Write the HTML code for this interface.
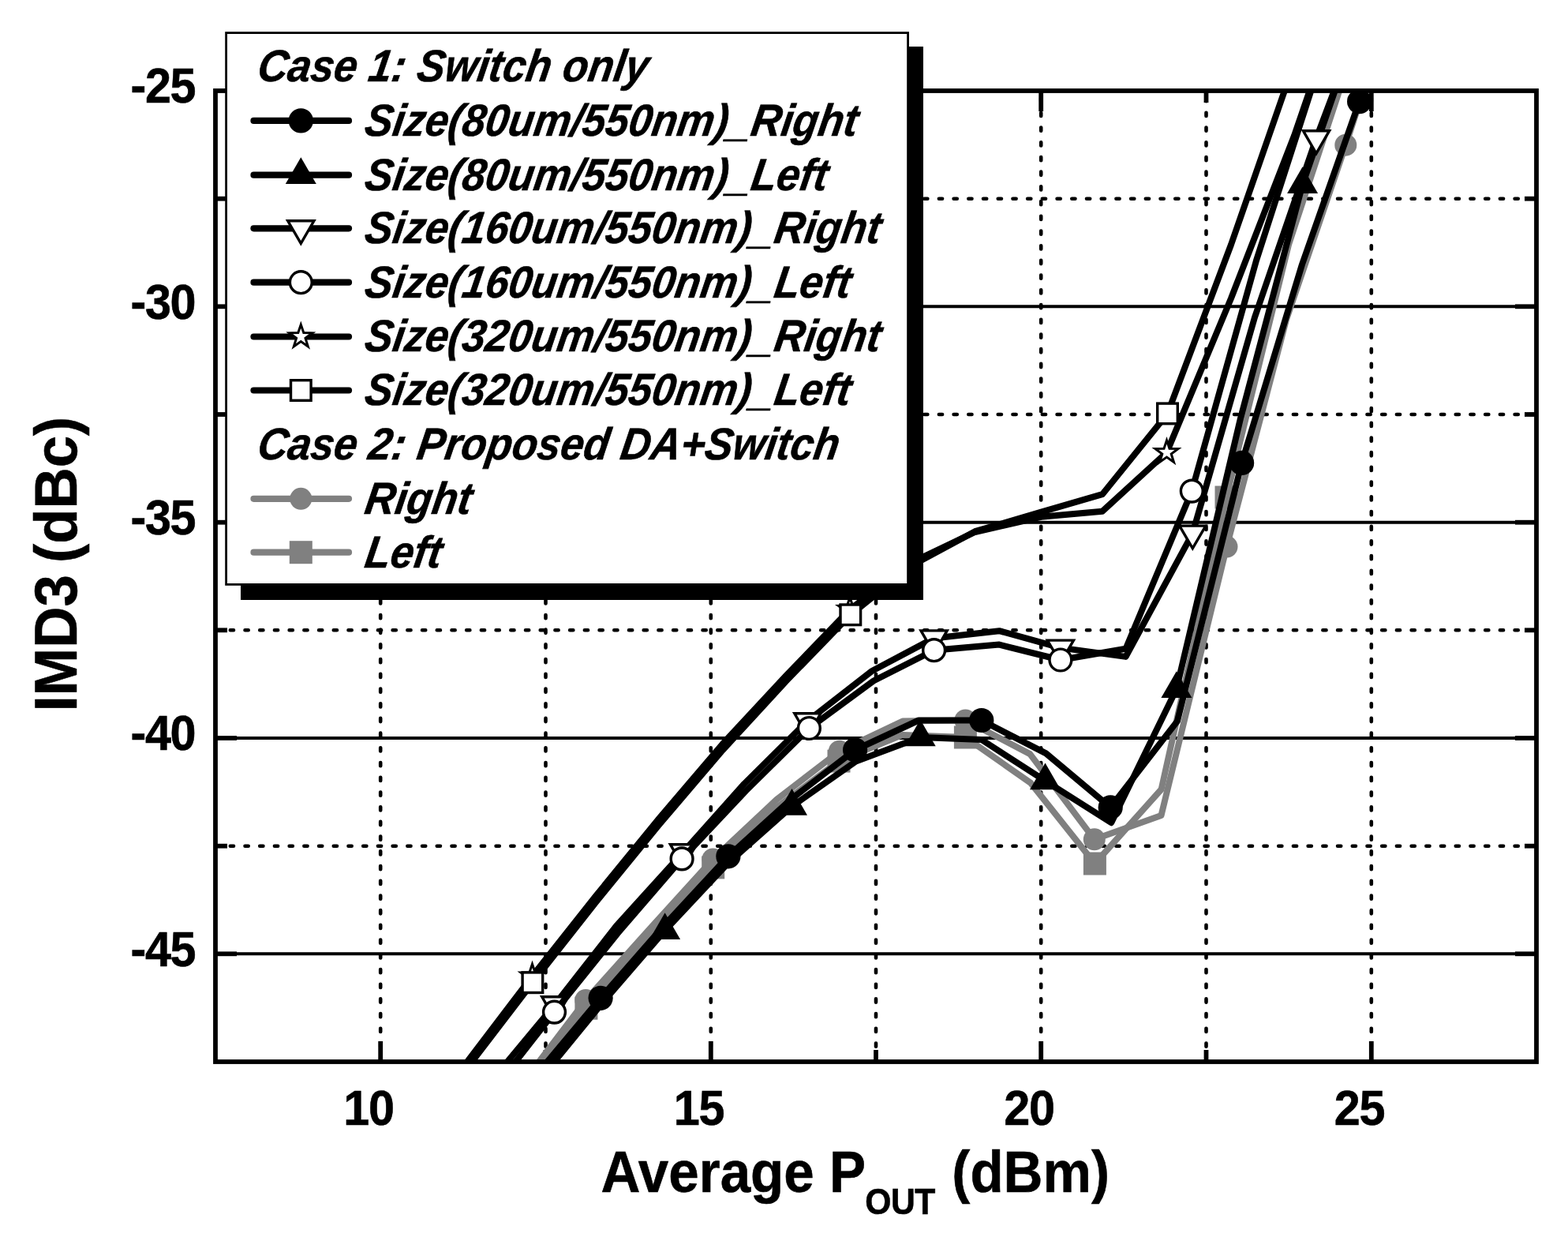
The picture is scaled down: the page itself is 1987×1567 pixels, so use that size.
<!DOCTYPE html>
<html lang="en"><head><meta charset="utf-8"><title>IMD3 vs Average Pout</title>
<style>
html,body{margin:0;padding:0;background:#fff;}
body{width:1987px;height:1567px;overflow:hidden;}
svg{display:block;}
text{font-family:"Liberation Sans",sans-serif;font-weight:bold;fill:#000;stroke:#000;stroke-width:0.6px;}
.leg{font-style:italic;font-size:57px;}
.tick{font-size:62.8px;letter-spacing:-1.4px;}
.ttl{font-size:74.5px;}
.sub{font-size:46px;letter-spacing:-0.5px;}
</style></head><body>
<svg width="1987" height="1567" viewBox="0 0 1987 1567" role="img" aria-label="IMD3 (dBc) versus Average Pout (dBm)">
<rect x="0" y="0" width="1987" height="1567" fill="#fff"/>
<defs><clipPath id="plot"><rect x="273" y="115" width="1674" height="1230"/></clipPath></defs>
<g stroke="#000" stroke-width="4" fill="none">
<line x1="273" y1="388.3" x2="1947" y2="388.3"/>
<line x1="273" y1="661.7" x2="1947" y2="661.7"/>
<line x1="273" y1="935" x2="1947" y2="935"/>
<line x1="273" y1="1208.3" x2="1947" y2="1208.3"/>
</g>
<g stroke="#000" stroke-width="4.6" fill="none" stroke-linecap="round" stroke-dasharray="4.2 14.51">
<line x1="273.1" y1="251.7" x2="1947" y2="251.7"/>
<line x1="273.1" y1="525" x2="1947" y2="525"/>
<line x1="273.1" y1="798.3" x2="1947" y2="798.3"/>
<line x1="273.1" y1="1071.7" x2="1947" y2="1071.7"/>
<line x1="482.2" y1="124.1" x2="482.2" y2="1345"/>
<line x1="691.5" y1="124.1" x2="691.5" y2="1345"/>
<line x1="900.8" y1="124.1" x2="900.8" y2="1345"/>
<line x1="1110" y1="124.1" x2="1110" y2="1345"/>
<line x1="1319.2" y1="124.1" x2="1319.2" y2="1345"/>
<line x1="1528.5" y1="124.1" x2="1528.5" y2="1345"/>
<line x1="1737.8" y1="124.1" x2="1737.8" y2="1345"/>
</g>
<g stroke="#000" stroke-width="5.8" fill="none">
<line x1="273" y1="388.3" x2="300" y2="388.3"/>
<line x1="1947" y1="388.3" x2="1920" y2="388.3"/>
<line x1="273" y1="661.7" x2="300" y2="661.7"/>
<line x1="1947" y1="661.7" x2="1920" y2="661.7"/>
<line x1="273" y1="935" x2="300" y2="935"/>
<line x1="1947" y1="935" x2="1920" y2="935"/>
<line x1="273" y1="1208.3" x2="300" y2="1208.3"/>
<line x1="1947" y1="1208.3" x2="1920" y2="1208.3"/>
<line x1="273" y1="251.7" x2="288" y2="251.7"/>
<line x1="1947" y1="251.7" x2="1932" y2="251.7"/>
<line x1="273" y1="525" x2="288" y2="525"/>
<line x1="1947" y1="525" x2="1932" y2="525"/>
<line x1="273" y1="798.3" x2="288" y2="798.3"/>
<line x1="1947" y1="798.3" x2="1932" y2="798.3"/>
<line x1="273" y1="1071.7" x2="288" y2="1071.7"/>
<line x1="1947" y1="1071.7" x2="1932" y2="1071.7"/>
<line x1="482.2" y1="115" x2="482.2" y2="141"/>
<line x1="482.2" y1="1345" x2="482.2" y2="1319"/>
<line x1="900.8" y1="115" x2="900.8" y2="141"/>
<line x1="900.8" y1="1345" x2="900.8" y2="1319"/>
<line x1="1319.2" y1="115" x2="1319.2" y2="141"/>
<line x1="1319.2" y1="1345" x2="1319.2" y2="1319"/>
<line x1="1737.8" y1="115" x2="1737.8" y2="141"/>
<line x1="1737.8" y1="1345" x2="1737.8" y2="1319"/>
<line x1="691.5" y1="115" x2="691.5" y2="130"/>
<line x1="691.5" y1="1345" x2="691.5" y2="1330"/>
<line x1="1110" y1="115" x2="1110" y2="130"/>
<line x1="1110" y1="1345" x2="1110" y2="1330"/>
<line x1="1528.5" y1="115" x2="1528.5" y2="130"/>
<line x1="1528.5" y1="1345" x2="1528.5" y2="1330"/>
</g>
<g clip-path="url(#plot)">
<polyline points="662,1378 742.9,1277.2 823,1185 903.7,1098.9 984,1023 1063,964.1 1143.8,930.9 1223.4,934 1306.2,991.9 1387.4,1094 1471.6,1000 1554,630 1633,310 1714,64 1790,-170" fill="none" stroke="#808080" stroke-width="8" stroke-linejoin="round" stroke-linecap="round"/>
<rect x="728.4" y="1262.7" width="29" height="29" fill="#808080"/>
<rect x="889.2" y="1084.4" width="29" height="29" fill="#808080"/>
<rect x="1048.5" y="949.6" width="29" height="29" fill="#808080"/>
<rect x="1208.9" y="919.5" width="29" height="29" fill="#808080"/>
<rect x="1372.9" y="1079.5" width="29" height="29" fill="#808080"/>
<rect x="1539.5" y="615.5" width="29" height="29" fill="#808080"/>
<polyline points="664,1370 742.3,1267 824,1176 903.5,1088.5 984,1013 1063.8,951.7 1143.8,913.6 1223.4,912.5 1305.2,955.1 1386.8,1063.3 1471.5,1033 1554.5,692.6 1630,405 1705.3,183.7 1785,-60" fill="none" stroke="#808080" stroke-width="8" stroke-linejoin="round" stroke-linecap="round"/>
<circle cx="742.3" cy="1267" r="14" fill="#808080"/>
<circle cx="903.5" cy="1088.5" r="14" fill="#808080"/>
<circle cx="1063.8" cy="951.7" r="14" fill="#808080"/>
<circle cx="1223.4" cy="912.5" r="14" fill="#808080"/>
<circle cx="1386.8" cy="1063.3" r="14" fill="#808080"/>
<circle cx="1554.5" cy="692.6" r="14" fill="#808080"/>
<circle cx="1705.3" cy="183.7" r="14" fill="#808080"/>
<polyline points="681,1360 761.1,1264.3 842,1172 922.9,1084.8 1003,1012 1083.6,950 1164.2,912.5 1243.8,912.5 1325.5,954.4 1407.2,1022.8 1491.9,913.6 1573.6,586.4 1650,335 1722.6,128.6 1800,-50" fill="none" stroke="#000" stroke-width="8" stroke-linejoin="round" stroke-linecap="round"/>
<circle cx="761.1" cy="1264.3" r="15.6" fill="#000"/>
<circle cx="922.9" cy="1084.8" r="15.6" fill="#000"/>
<circle cx="1083.6" cy="950" r="15.6" fill="#000"/>
<circle cx="1243.8" cy="912.5" r="15.6" fill="#000"/>
<circle cx="1407.2" cy="1022.8" r="15.6" fill="#000"/>
<circle cx="1573.6" cy="586.4" r="15.6" fill="#000"/>
<circle cx="1722.6" cy="128.6" r="15.6" fill="#000"/>
<polyline points="682,1370 762,1272 842.6,1178.7 923,1093 1003.5,1021.5 1084.6,964.6 1166.2,934 1243.8,937 1324.5,989.1 1408.2,1042.2 1490.9,872.7 1572,530 1650.6,233.8 1702,85 1740,-25" fill="none" stroke="#000" stroke-width="8" stroke-linejoin="round" stroke-linecap="round"/>
<polygon points="842.6,1156.2 823.1,1189.9 862.1,1189.9" fill="#000"/>
<polygon points="1003.5,999 984,1032.7 1023,1032.7" fill="#000"/>
<polygon points="1166.2,911.5 1146.7,945.2 1185.7,945.2" fill="#000"/>
<polygon points="1324.5,966.6 1305,1000.3 1344,1000.3" fill="#000"/>
<polygon points="1490.9,850.2 1471.4,883.9 1510.4,883.9" fill="#000"/>
<polygon points="1650.6,211.3 1631.1,245 1670.1,245" fill="#000"/>
<polyline points="618,1375 703.4,1272.3 781,1173 866,1079.2 943,993 1023.4,913.3 1105,850 1183.6,808.4 1266.3,799.2 1343.9,820.6 1426.6,831.9 1511.3,675.6 1590,402 1668,175.2 1702,85 1740,-25" fill="none" stroke="#000" stroke-width="8" stroke-linejoin="round" stroke-linecap="round"/>
<polygon points="686.8,1262.8 720,1262.8 703.4,1291.4" fill="#fff" stroke="#000" stroke-width="3.4" stroke-linejoin="miter"/>
<polygon points="849.4,1069.7 882.6,1069.7 866,1098.3" fill="#fff" stroke="#000" stroke-width="3.4" stroke-linejoin="miter"/>
<polygon points="1006.8,903.8 1040,903.8 1023.4,932.4" fill="#fff" stroke="#000" stroke-width="3.4" stroke-linejoin="miter"/>
<polygon points="1167,798.9 1200.2,798.9 1183.6,827.5" fill="#fff" stroke="#000" stroke-width="3.4" stroke-linejoin="miter"/>
<polygon points="1327.3,811.1 1360.5,811.1 1343.9,839.7" fill="#fff" stroke="#000" stroke-width="3.4" stroke-linejoin="miter"/>
<polygon points="1494.7,666.1 1527.9,666.1 1511.3,694.7" fill="#fff" stroke="#000" stroke-width="3.4" stroke-linejoin="miter"/>
<polygon points="1651.4,165.7 1684.6,165.7 1668,194.3" fill="#fff" stroke="#000" stroke-width="3.4" stroke-linejoin="miter"/>
<polyline points="622,1385 702.5,1282.1 783,1182 864.1,1087.9 945,1002 1025.4,922.5 1107,862.5 1183.6,823.7 1266.3,816.6 1343.9,836 1426.6,821.7 1510.3,622.1 1592,330 1671,85 1750,-160" fill="none" stroke="#000" stroke-width="8" stroke-linejoin="round" stroke-linecap="round"/>
<circle cx="702.5" cy="1282.1" r="13.9" fill="#fff" stroke="#000" stroke-width="3.4"/>
<circle cx="864.1" cy="1087.9" r="13.9" fill="#fff" stroke="#000" stroke-width="3.4"/>
<circle cx="1025.4" cy="922.5" r="13.9" fill="#fff" stroke="#000" stroke-width="3.4"/>
<circle cx="1183.6" cy="823.7" r="13.9" fill="#fff" stroke="#000" stroke-width="3.4"/>
<circle cx="1343.9" cy="836" r="13.9" fill="#fff" stroke="#000" stroke-width="3.4"/>
<circle cx="1510.3" cy="622.1" r="13.9" fill="#fff" stroke="#000" stroke-width="3.4"/>
<polyline points="515,1450 595,1341 674.5,1236.6 755,1135 835,1037 916,942 996,856 1077,772 1157,711.5 1235.5,674 1319.3,654.8 1396.9,647.7 1478.5,573.1 1560,378 1640,172 1720,-61" fill="none" stroke="#000" stroke-width="8" stroke-linejoin="round" stroke-linecap="round"/>
<polygon points="674.5,1221.3 678,1231.7 689.1,1231.9 680.2,1238.5 683.5,1249 674.5,1242.6 665.5,1249 668.8,1238.5 659.9,1231.9 671,1231.7" fill="#fff" stroke="#000" stroke-width="3" stroke-linejoin="miter"/>
<polygon points="1077,756.7 1080.5,767.1 1091.6,767.3 1082.7,773.9 1086,784.4 1077,778 1068,784.4 1071.3,773.9 1062.4,767.3 1073.5,767.1" fill="#fff" stroke="#000" stroke-width="3" stroke-linejoin="miter"/>
<polygon points="1478.5,557.8 1482,568.2 1493.1,568.4 1484.2,575 1487.5,585.5 1478.5,579.1 1469.5,585.5 1472.8,575 1463.9,568.4 1475,568.2" fill="#fff" stroke="#000" stroke-width="3" stroke-linejoin="miter"/>
<polyline points="515,1455 595,1349 674.9,1244.7 755,1143 835,1045 916,950 996,863 1077.8,778.8 1157,715.5 1235.5,673.2 1316,649.7 1396.9,626.2 1479.5,523.9 1560,310 1640,80 1720,-150" fill="none" stroke="#000" stroke-width="8" stroke-linejoin="round" stroke-linecap="round"/>
<rect x="662.1" y="1231.9" width="25.6" height="25.6" fill="#fff" stroke="#000" stroke-width="3.4"/>
<rect x="1065" y="766" width="25.6" height="25.6" fill="#fff" stroke="#000" stroke-width="3.4"/>
<rect x="1466.7" y="511.1" width="25.6" height="25.6" fill="#fff" stroke="#000" stroke-width="3.4"/>
</g>
<rect x="273" y="115" width="1674" height="1230" fill="none" stroke="#000" stroke-width="5.8"/>
<text class="tick" transform="translate(247.3 130.3) scale(0.945 1)" text-anchor="end">-25</text>
<text class="tick" transform="translate(247.3 403.6) scale(0.945 1)" text-anchor="end">-30</text>
<text class="tick" transform="translate(247.3 677) scale(0.945 1)" text-anchor="end">-35</text>
<text class="tick" transform="translate(247.3 950.3) scale(0.945 1)" text-anchor="end">-40</text>
<text class="tick" transform="translate(247.3 1223.6) scale(0.945 1)" text-anchor="end">-45</text>
<text class="tick" transform="translate(466.9 1425) scale(0.945 1)" text-anchor="middle">10</text>
<text class="tick" transform="translate(885.5 1425) scale(0.945 1)" text-anchor="middle">15</text>
<text class="tick" transform="translate(1304 1425) scale(0.945 1)" text-anchor="middle">20</text>
<text class="tick" transform="translate(1722.5 1425) scale(0.945 1)" text-anchor="middle">25</text>
<text class="ttl" transform="translate(761.5 1510) scale(0.928 1)">Average P<tspan class="sub" dx="-1" dy="28">OUT</tspan><tspan dx="2.5" dy="-28"> (dBm)</tspan></text>
<text class="ttl" style="font-size:75.3px;word-spacing:-5px" transform="translate(97.4 901.3) rotate(-90) scale(0.962 1)">IMD3 (dBc)</text>
<rect x="305" y="59" width="865" height="701" fill="#000"/>
<rect x="286.6" y="41.6" width="864" height="698.8" fill="#fff" stroke="#000" stroke-width="2.8"/>
<text class="leg" transform="translate(324.4 103.4) scale(0.925 1) skewX(-9.6)" text-anchor="start">Case 1: Switch only</text>
<line x1="321.5" y1="152.9" x2="442" y2="152.9" stroke="#000" stroke-width="8.2" stroke-linecap="round"/>
<circle cx="381.3" cy="152.9" r="15.6" fill="#000"/>
<text class="leg" transform="translate(460.6 171.7) scale(0.925 1) skewX(-9.6)" text-anchor="start">Size(80um/550nm)_Right</text>
<line x1="321.5" y1="221.7" x2="442" y2="221.7" stroke="#000" stroke-width="8.2" stroke-linecap="round"/>
<polygon points="381.3,199.2 361.8,232.9 400.8,232.9" fill="#000"/>
<text class="leg" transform="translate(460.6 240.5) scale(0.925 1) skewX(-9.6)" text-anchor="start">Size(80um/550nm)_Left</text>
<line x1="321.5" y1="289.3" x2="442" y2="289.3" stroke="#000" stroke-width="8.2" stroke-linecap="round"/>
<polygon points="364.7,279.8 397.9,279.8 381.3,308.4" fill="#fff" stroke="#000" stroke-width="3.4" stroke-linejoin="miter"/>
<text class="leg" transform="translate(460.6 308.1) scale(0.925 1) skewX(-9.6)" text-anchor="start">Size(160um/550nm)_Right</text>
<line x1="321.5" y1="357.7" x2="442" y2="357.7" stroke="#000" stroke-width="8.2" stroke-linecap="round"/>
<circle cx="381.3" cy="357.7" r="13.9" fill="#fff" stroke="#000" stroke-width="3.4"/>
<text class="leg" transform="translate(460.6 376.5) scale(0.925 1) skewX(-9.6)" text-anchor="start">Size(160um/550nm)_Left</text>
<line x1="321.5" y1="426.5" x2="442" y2="426.5" stroke="#000" stroke-width="8.2" stroke-linecap="round"/>
<polygon points="381.3,411.2 384.8,421.6 395.9,421.8 387,428.4 390.3,438.9 381.3,432.5 372.3,438.9 375.6,428.4 366.7,421.8 377.8,421.6" fill="#fff" stroke="#000" stroke-width="3" stroke-linejoin="miter"/>
<text class="leg" transform="translate(460.6 445.3) scale(0.925 1) skewX(-9.6)" text-anchor="start">Size(320um/550nm)_Right</text>
<line x1="321.5" y1="494.5" x2="442" y2="494.5" stroke="#000" stroke-width="8.2" stroke-linecap="round"/>
<rect x="368.5" y="481.7" width="25.6" height="25.6" fill="#fff" stroke="#000" stroke-width="3.4"/>
<text class="leg" transform="translate(460.6 513.3) scale(0.925 1) skewX(-9.6)" text-anchor="start">Size(320um/550nm)_Left</text>
<text class="leg" transform="translate(324.4 581.8) scale(0.925 1) skewX(-9.6)" text-anchor="start">Case 2: Proposed DA+Switch</text>
<line x1="321.5" y1="631.8" x2="442" y2="631.8" stroke="#808080" stroke-width="8.2" stroke-linecap="round"/>
<circle cx="381.3" cy="631.8" r="14" fill="#808080"/>
<text class="leg" transform="translate(460.6 650.6) scale(0.925 1) skewX(-9.6)" text-anchor="start">Right</text>
<line x1="321.5" y1="699.7" x2="442" y2="699.7" stroke="#808080" stroke-width="8.2" stroke-linecap="round"/>
<rect x="366.8" y="685.2" width="29" height="29" fill="#808080"/>
<text class="leg" transform="translate(460.6 718.5) scale(0.925 1) skewX(-9.6)" text-anchor="start">Left</text>
</svg>
</body></html>
